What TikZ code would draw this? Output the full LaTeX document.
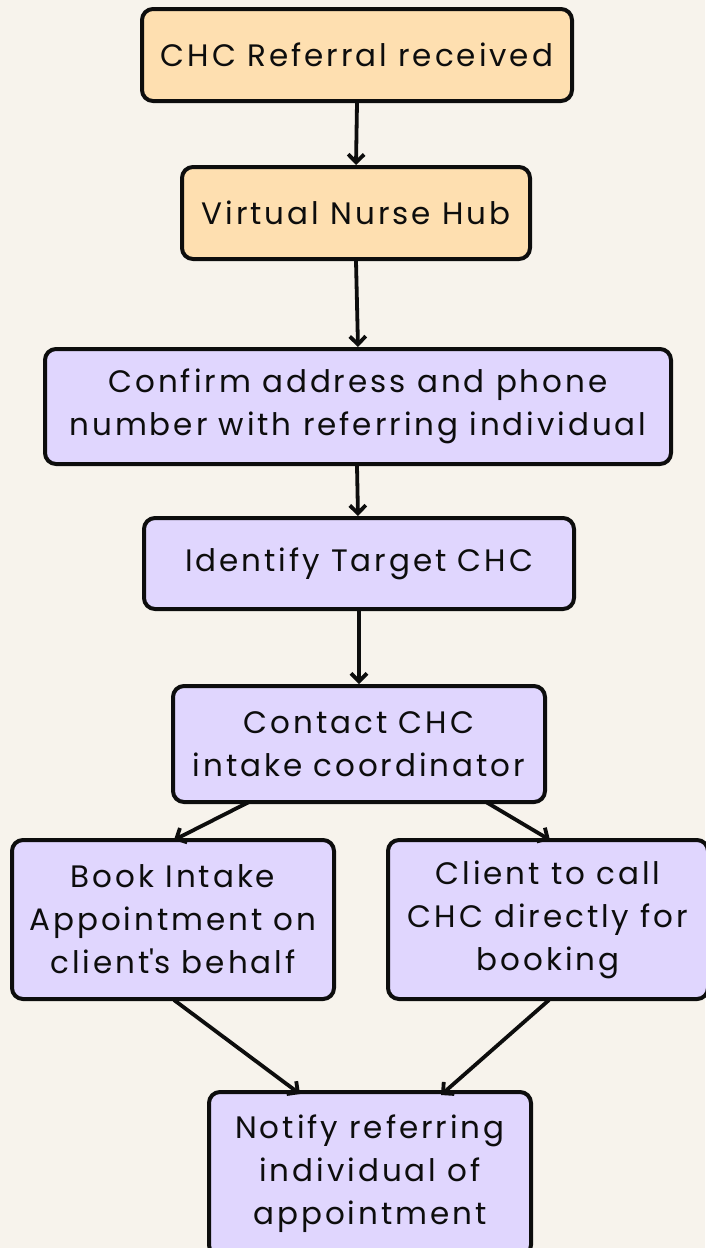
\documentclass[tikz,border=0pt]{standalone}
\usepackage{fontspec}
\setmainfont{Poppins}[LetterSpace=9.5]
\usetikzlibrary{arrows.meta}
\definecolor{bg}{HTML}{F7F3EC}
\definecolor{orangefill}{HTML}{FEDFB0}
\definecolor{purplefill}{HTML}{E0D6FE}
\definecolor{ink}{HTML}{0D0D0D}
\tikzset{
  box/.style={draw=ink, line width=4pt, rounded corners=11pt, align=center,
    inner sep=0pt, text=ink, font=\fontsize{31}{43}\selectfont},
  obox/.style={box, fill=orangefill},
  pbox/.style={box, fill=purplefill},
  arr/.style={draw=ink, line width=3.8pt, -{Straight Barb[length=8pt,width=16pt,line width=3.8pt]}}
}
\begin{document}
\begin{tikzpicture}[x=1pt,y=-1pt]
\fill[bg] (0,0) rectangle (705,1248);
\useasboundingbox (0,0) rectangle (705,1248);
\node[obox, minimum width=430pt, minimum height=92pt] (n1) at (357,55) {CHC Referral received};
\node[obox, minimum width=348pt, minimum height=92pt] (n2) at (356,213) {Virtual Nurse Hub};
\node[pbox, minimum width=626pt, minimum height=115pt] (n3) at (358,406.5) {Confirm address and phone\\number with referring individual};
\node[pbox, minimum width=430pt, minimum height=91pt] (n4) at (359,563.5) {Identify Target CHC};
\node[pbox, minimum width=372pt, minimum height=116pt] (n5) at (359,744) {Contact CHC\\intake coordinator};
\node[pbox, minimum width=322pt, minimum height=159pt] (n6) at (173,919.5) {Book Intake\\Appointment on\\client\textquotesingle s behalf};
\node[pbox, minimum width=320pt, minimum height=159pt] (n7) at (548,919.5) {Client to call\\CHC directly for\\booking};
\node[pbox, minimum width=322pt, minimum height=164pt] (n8) at (370,1174) {Notify referring\\individual of\\appointment};
\draw[arr] (n1.south) -- (n2.north);
\draw[arr] (n2.south) -- ([xshift=2pt]n2.south |- n3.north);
\draw[arr] ([xshift=-1pt]n3.south) -- ([xshift=-1pt]n4.north);
\draw[arr] (n4.south) -- (n5.north);
\draw[arr] ([xshift=-110pt,yshift=2pt]n5.south) -- ([xshift=1pt,yshift=-2pt]n6.north);
\draw[arr] ([xshift=127pt,yshift=2pt]n5.south) -- ([xshift=2pt,yshift=-2pt]n7.north);
\draw[arr] ([xshift=1pt,yshift=1pt]n6.south) -- ([xshift=-70pt,yshift=-4pt]n8.north);
\draw[arr] ([xshift=1pt,yshift=1pt]n7.south) -- ([xshift=71pt,yshift=-5pt]n8.north);
\end{tikzpicture}
\end{document}
